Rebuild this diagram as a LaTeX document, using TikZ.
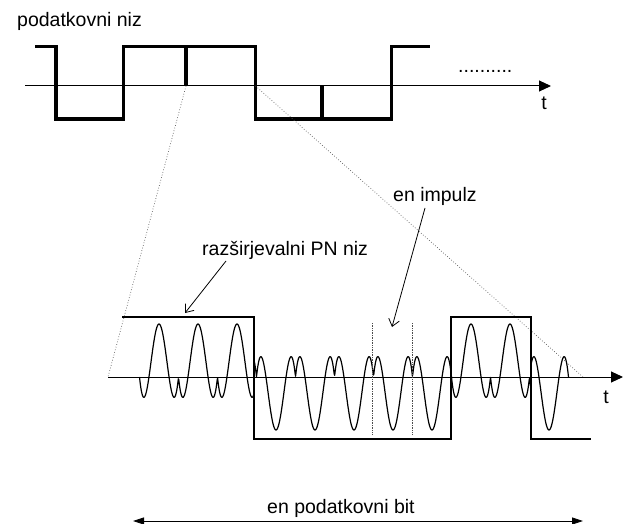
\documentclass[tikz,border=0pt]{standalone}
\usepackage{fontspec}
\setmainfont{Liberation Sans}
\usetikzlibrary{arrows.meta}

% carrier shape over one chip: big lobe of height 53 around each peak,
% shallow double dip in between (peaks at x = 159 + 39 n)
\pgfmathdeclarefunction{carr}{1}{%
  \begingroup
  \pgfmathsetmacro\carrs{abs(cos((#1-159)*4.615385))}%
  \pgfmathparse{171*\carrs*(\carrs-0.69)}%
  \pgfmathsmuggle\pgfmathresult
  \endgroup
}

\begin{document}
\begin{tikzpicture}[x=1pt,y=-1pt,
  lbl/.style={font=\fontsize{19.5}{23}\selectfont, inner sep=0pt},
  axis/.style={line width=1pt, -{Triangle[length=12pt,width=11pt]}},
  datasig/.style={line width=3.3pt},
  chipsig/.style={line width=1.4pt},
  carrier/.style={line width=1.2pt, line join=round},
  zoomline/.style={dotted, line width=0.7pt, gray!70!black},
  marker/.style={densely dotted, line width=0.7pt, gray!60!black},
  callout/.style={line width=0.8pt, -{Straight Barb[length=7pt,width=11pt]}},
  bitspan/.style={line width=0.8pt, {Triangle[length=11pt,width=7pt]}-{Triangle[length=11pt,width=7pt]}}]
\useasboundingbox (0,0) rectangle (626,524);

% ---------- data stream ----------
\node[lbl, anchor=base west] (datalbl) at (17,27) {podatkovni niz};
\coordinate (taxL) at (25,86);
\coordinate (taxR) at (551,86);
\draw[axis] (taxL) -- (taxR);
\node[lbl, anchor=base] (tTop) at (544,110) {t};
\node[lbl, anchor=base west] (more) at (458,72.5) {..........};

\draw[datasig] (35,46.5) -- (56,46.5) -- (56,119) -- (123.5,119) -- (123.5,46.5)
  -- (255.5,46.5) -- (255.5,119) -- (391.5,119) -- (391.5,46.5) -- (430,46.5);
\coordinate (tickA) at (186,86);
\coordinate (tickB) at (322,86);
\draw[datasig] (186,46.5) -- (tickA);
\draw[datasig] (322,119) -- (tickB);

% ---------- one data bit, enlarged ----------
\coordinate (bitStart) at (255.5,86);
\coordinate (baxL) at (108,377);
\coordinate (baxR) at (623,377);
\coordinate (zoomR) at (583,377);
\draw[zoomline] (tickA) -- (baxL);
\draw[zoomline] (bitStart) -- (zoomR);

% PN chip sequence
\draw[chipsig] (122,317) -- (254,317) -- (254,439) -- (451,439) -- (451,317)
  -- (531,317) -- (531,439) -- (591,439);

% spread carrier
\draw[carrier]
  plot[domain=139.5:254, samples=240] (\x,{377-carr(\x)})
  -- plot[domain=254:451.5, samples=400] (\x,{377+carr(\x)})
  -- plot[domain=451.5:531, samples=170] (\x,{377-carr(\x)})
  -- plot[domain=531:568.5, samples=80] (\x,{377+carr(\x)});

\draw[axis] (baxL) -- (baxR);
\node[lbl, anchor=base] (tBot) at (606,403) {t};

% one pulse
\draw[marker] (372,323) -- (372,435);
\draw[marker] (412,323) -- (412,435);

% labels
\node[lbl, anchor=base west] (pnlbl) at (202,255) {razširjevalni PN niz};
\coordinate (pnFrom) at (226,261);
\coordinate (pnTo) at (185,313);
\draw[callout] (pnFrom) -- (pnTo);

\node[lbl, anchor=base west] (implbl) at (393,201) {en impulz};
\coordinate (impFrom) at (425,208);
\coordinate (impTo) at (392,327);
\draw[callout] (impFrom) -- (impTo);

\node[lbl, anchor=base west] (bitlbl) at (267,513) {en podatkovni bit};
\coordinate (bitL) at (133,521);
\coordinate (bitR) at (583,521);
\draw[bitspan] (bitL) -- (bitR);
\end{tikzpicture}
\end{document}
